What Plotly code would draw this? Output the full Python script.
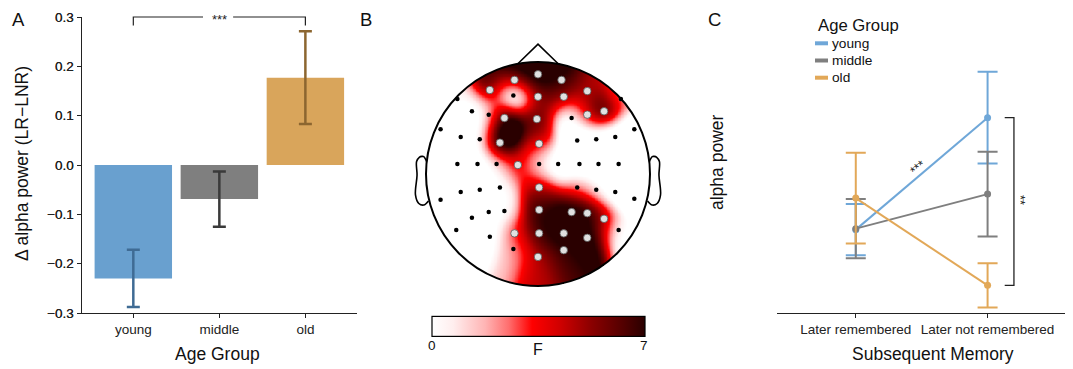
import numpy as np
import plotly.graph_objects as go

# The page body keeps the browser's default 8px margin: the figure fills the rest of
# the 1073x369 window and reference pixel positions are shifted by that offset.
WIN_W, WIN_H, OFF = 1073, 369, 8
W, H = WIN_W - OFF, WIN_H - OFF
FONT = "Liberation Sans, Arial, sans-serif"

# ---------------- data ----------------
age_groups = ["young", "middle", "old"]
delta_alpha = [-0.230, -0.069, 0.177]
delta_err = [0.058, 0.056, 0.094]
bar_colors = ["#69a0cf", "#7f7f7f", "#d9a55b"]
bar_err_colors = ["#3f6b94", "#3a3a3a", "#8c6630"]

memory_conds = ["Later remembered", "Later not remembered"]
alpha_young = [-0.131, 0.096]
alpha_young_err = [0.052, 0.093]
alpha_middle = [-0.129, -0.059]
alpha_middle_err = [0.060, 0.086]
alpha_old = [-0.067, -0.244]
alpha_old_err = [0.092, 0.045]
line_colors = ["#6fa7d8", "#7f7f7f", "#e2a858"]

y_ticks = [-0.3, -0.2, -0.1, 0.0, 0.1, 0.2, 0.3]

# electrodes (head units, radius 1) and F values
elec_x = [0.00, -0.21, 0.21,
          -0.43, -0.22, 0.00, 0.23, 0.44, -0.72, 0.74,
          -0.59, -0.44, -0.30, -0.01, 0.30, 0.44, 0.59,
          -0.87, -0.69, -0.52, -0.34, 0.01, 0.35, 0.52, 0.69, 0.86,
          -0.72, -0.54, -0.37, -0.18, 0.01, 0.18, 0.37, 0.54, 0.72,
          0.01, -0.69, -0.52, -0.34, 0.35, 0.52, 0.69, -0.87, 0.86,
          -0.59, -0.44, -0.30, 0.01, 0.30, 0.44, 0.59,
          -0.73, -0.43, -0.21, 0.01, 0.23, 0.44, 0.72,
          -0.22, 0.23, 0.00]
elec_y = [0.89, 0.84, 0.84,
          0.75, 0.70, 0.69, 0.69, 0.74, 0.67, 0.67,
          0.56, 0.53, 0.50, 0.49, 0.50, 0.53, 0.56,
          0.40, 0.33, 0.31, 0.28, 0.27, 0.30, 0.31, 0.33, 0.40,
          0.09, 0.09, 0.09, 0.08, 0.09, 0.09, 0.09, 0.09, 0.09,
          -0.12, -0.16, -0.14, -0.12, -0.12, -0.14, -0.16, -0.23, -0.22,
          -0.39, -0.34, -0.33, -0.32, -0.34, -0.35, -0.40,
          -0.50, -0.56, -0.53, -0.53, -0.53, -0.57, -0.50,
          -0.67, -0.68, -0.74]
elec_F = [8.5, 8.5, 7.5,
          7, -6, 5.5, 5, 4.5, 0.5, 1.5,
          -1.5, -1, 11, 6, -2.5, 5.5, 8,
          -0.5, -1, -1, 11, 4.5, -2, -2, -2, -2,
          -2, -1.5, 0, 4.5, 0.5, -2, -2, -2, -2,
          5, -2, -1.5, 0, 3, 0.5, -2, -2, -2,
          -0.5, -1, 0, 7, 8, 8, 5,
          -2, -1.5, 4, 7, 8, 8, -1,
          1.5, 6.5, 4.5]
elec_sig = [1, 1, 1,
            1, 0, 1, 1, 1, 0, 0,
            0, 0, 1, 1, 0, 1, 1,
            0, 0, 0, 1, 1, 0, 0, 0, 0,
            0, 0, 0, 1, 0, 0, 0, 0, 0,
            1, 0, 0, 0, 0, 0, 0, 0, 0,
            0, 0, 0, 1, 1, 1, 1,
            0, 0, 1, 1, 1, 1, 0,
            0, 1, 1]

# head outline (MNE-style)
ear_x = [0.994, 1.020, 1.036, 1.060, 1.084, 1.080, 1.094, 1.064, 1.020, 0.978]
ear_y = [0.111, 0.155, 0.157, 0.149, 0.111, -0.011, -0.186, -0.263, -0.277, -0.240]
nose_x = [-0.18, 0.0, 0.18]
nose_y = [0.984, 1.16, 0.984]


def px(x):
    return min(max((x - OFF) / W, 0.0), 1.0)


def py(y):
    return min(max(1 - (y - OFF) / H, 0.0), 1.0)


# ---------------- topomap interpolation ----------------
ex = np.array(elec_x)
ey = np.array(elec_y)
ev = np.array(elec_F, dtype=float)
g = np.linspace(-1.0, 1.0, 301)
GX, GY = np.meshgrid(g, g)
d2 = (GX[..., None] - ex) ** 2 + (GY[..., None] - ey) ** 2
sig = 0.115
w = np.exp(-(d2 - d2.min(axis=-1, keepdims=True)) / (2 * sig ** 2))
Z = (w * ev).sum(-1) / w.sum(-1)
Z[GX ** 2 + GY ** 2 > 1.0] = np.nan

colorscale = [[0.0, "#ffffff"], [0.1, "#ffeeee"], [0.25, "#ffb4b4"],
              [0.36, "#ff6e6e"], [0.47, "#ff0000"], [0.6, "#d00000"],
              [0.75, "#8a0000"], [0.9, "#520000"], [1.0, "#2a0000"]]

fig = go.Figure()

# ---------------- panel A ----------------
for i, g_name in enumerate(age_groups):
    fig.add_trace(go.Bar(
        x=[g_name], y=[delta_alpha[i]], width=0.9,
        marker=dict(color=bar_colors[i], line=dict(width=0)),
        error_y=dict(type="data", array=[delta_err[i]], color=bar_err_colors[i],
                     thickness=2.5, width=6.5),
        xaxis="x", yaxis="y", showlegend=False, name=g_name))

# ---------------- panel B ----------------
fig.add_trace(go.Heatmap(
    x=g, y=g, z=Z, zmin=0, zmax=7, colorscale=colorscale, hoverinfo="skip",
    xaxis="x3", yaxis="y3",
    colorbar=dict(orientation="h", x=px(538.3), xanchor="center",
                  y=py(327), yanchor="middle", lenmode="pixels", len=213,
                  thicknessmode="pixels", thickness=19.5, xpad=0, ypad=0,
                  outlinewidth=1.2, outlinecolor="#000",
                  showticklabels=False, ticks="")))

nx = [x for x, s in zip(elec_x, elec_sig) if not s]
ny = [y for y, s in zip(elec_y, elec_sig) if not s]
sx = [x for x, s in zip(elec_x, elec_sig) if s]
sy = [y for y, s in zip(elec_y, elec_sig) if s]
fig.add_trace(go.Scatter(x=nx, y=ny, mode="markers", xaxis="x3", yaxis="y3",
                         marker=dict(size=4.5, color="#000"), showlegend=False,
                         hoverinfo="skip"))
fig.add_trace(go.Scatter(x=sx, y=sy, mode="markers", xaxis="x3", yaxis="y3",
                         marker=dict(size=7.5, color="#e0e0e0",
                                     line=dict(width=0.8, color="#555")),
                         showlegend=False, hoverinfo="skip"))
fig.add_trace(go.Scatter(x=nose_x, y=nose_y, mode="lines", xaxis="x3", yaxis="y3",
                         line=dict(color="#000", width=1.6), showlegend=False,
                         hoverinfo="skip"))
for sgn in (1, -1):
    fig.add_trace(go.Scatter(x=[sgn * v for v in ear_x], y=ear_y, mode="lines",
                             line_shape="spline", xaxis="x3", yaxis="y3",
                             line=dict(color="#000", width=1.6), showlegend=False,
                             hoverinfo="skip"))

# ---------------- panel C ----------------
series = [("young", alpha_young, alpha_young_err),
          ("middle", alpha_middle, alpha_middle_err),
          ("old", alpha_old, alpha_old_err)]
for (name, vals, errs), col in zip(series, line_colors):
    fig.add_trace(go.Scatter(
        x=memory_conds, y=vals, mode="lines+markers", name=name,
        line=dict(color=col, width=2), marker=dict(color=col, size=7),
        error_y=dict(type="data", array=errs, color=col, thickness=2, width=10),
        xaxis="x2", yaxis="y2", showlegend=False))

# ---------------- layout ----------------
axis_common = dict(showline=True, linecolor="#222", linewidth=1.3, ticks="outside",
                   ticklen=4, tickwidth=1.3, tickcolor="#222", showgrid=False,
                   zeroline=False, tickfont=dict(family=FONT, size=13.5, color="#222"))
ydom = [py(313), py(17)]

c_left, c_right = 776.7, 1066.7
c_step = 131.8
c_range = [-0.6, -0.6 + (c_right - c_left) / c_step]

fig.update_layout(
    width=W, height=H, margin=dict(l=0, r=0, t=0, b=0, autoexpand=False),
    paper_bgcolor="white", plot_bgcolor="white", barmode="overlay",
    font=dict(family=FONT, color="#111"),
    xaxis=dict(domain=[px(81.7), px(357)], range=[-0.6, 2.6], type="category",
               **axis_common),
    yaxis=dict(domain=ydom, range=[-0.3, 0.3], tickvals=y_ticks, tickformat=".1f",
               **axis_common),
    xaxis2=dict(domain=[px(c_left), px(c_right)], range=c_range, type="category",
                **axis_common),
    yaxis2=dict(domain=ydom, range=[-0.3, 0.3], tickvals=y_ticks, tickformat=".1f",
                **axis_common),
    xaxis3=dict(domain=[px(538 - 1.25 * 112), px(538 + 1.25 * 112)], range=[-1.25, 1.25],
                visible=False),
    yaxis3=dict(domain=[py(174 + 1.25 * 112), py(174 - 1.25 * 112)], range=[-1.25, 1.25],
                visible=False),
)

shapes = []
# head circle
shapes.append(dict(type="circle", xref="x3", yref="y3", x0=-1, x1=1, y0=-1, y1=1,
                   line=dict(color="#000", width=2)))
# panel A significance bracket (young vs old)
yt = ydom[1]
yb = py(25.5)
shapes.append(dict(type="path", xref="x", yref="paper",
                   path=f"M 0,{yb} L 0,{yt} L 0.81,{yt}",
                   line=dict(color="#222", width=1.2)))
shapes.append(dict(type="path", xref="x", yref="paper",
                   path=f"M 1.16,{yt} L 2,{yt} L 2,{yb}",
                   line=dict(color="#222", width=1.2)))
# panel C bracket
shapes.append(dict(type="path", xref="x2", yref="y2",
                   path=f"M 1.13,{alpha_young[1]} L 1.2,{alpha_young[1]} "
                        f"L 1.2,{alpha_old[1]} L 1.13,{alpha_old[1]}",
                   line=dict(color="#222", width=1.3)))
# manual legend swatches
for i, col in enumerate(line_colors):
    yy = py(43.3 + 17.2 * i)
    shapes.append(dict(type="line", xref="paper", yref="paper", x0=px(815), x1=px(828),
                       y0=yy, y1=yy, line=dict(color=col, width=4)))
fig.update_layout(shapes=shapes)


def ann(text, x, y, size, **kw):
    d = dict(text=text, x=px(x), y=py(y), xref="paper", yref="paper", showarrow=False,
             font=dict(family=FONT, size=size, color=kw.pop("color", "#111")),
             xanchor=kw.pop("xanchor", "center"), yanchor=kw.pop("yanchor", "middle"))
    d.update(kw)
    return d


anns = [
    ann("A", 18, OFF, 18.5, yanchor="top", borderpad=0),
    ann("B", 365.5, OFF, 18.5, yanchor="top", borderpad=0),
    ann("C", 714, OFF, 18.5, yanchor="top", borderpad=0),
    ann("Δ alpha power (LR−LNR)", 22, 164, 17.5, textangle=-90),
    ann("Age Group", 217.5, 353.5, 17.5),
    ann("alpha power", 716.5, 162.5, 17.5, textangle=-90),
    ann("Subsequent Memory", 932.5, 353.5, 17.5),
    ann("0", 431.7, 345, 13.5), ann("7", 643.5, 345, 13.5), ann("F", 538, 349.5, 16),
    ann("Age Group", 815.5, 26, 16.7, xanchor="left"),
]
for i, name in enumerate(age_groups):
    anns.append(ann(name, 830, 43.3 + 17.2 * i, 13.7, xanchor="left"))
# significance stars
anns.append(dict(text="***", x=1, y=yt, xref="x", yref="paper", showarrow=False,
                 yanchor="middle", yshift=-3, font=dict(family=FONT, size=13, color="#222")))
anns.append(dict(text="***", x=0.47, y=-0.005, xref="x2", yref="y2", showarrow=False,
                 textangle=-40, font=dict(family=FONT, size=13, color="#222")))
anns.append(dict(text="**", x=1.254, y=-0.071, xref="x2", yref="y2", showarrow=False,
                 textangle=90, font=dict(family=FONT, size=13, color="#222")))
fig.update_layout(annotations=anns)

fig.write_html("out.html")
